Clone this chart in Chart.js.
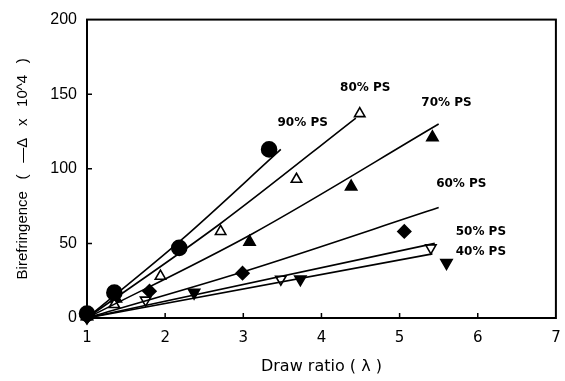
<!DOCTYPE html>
<html>
<head>
<meta charset="utf-8">
<script src="https://cdn.jsdelivr.net/npm/chart.js@4"></script>
<style>
  html, body { margin: 0; padding: 0; background: #fff; }
  #wrap { width: 565px; height: 381px; }
</style>
</head>
<body>
<div id="wrap"><canvas id="chart"></canvas></div>
<script>
// measured points, draw ratio vs birefringence
var ps90X = [1.0, 1.35, 2.18, 3.33];
var ps90Y = [3, 17, 47, 113];
var ps80X = [1.0, 1.35, 1.94, 2.71, 3.68, 4.49];
var ps80Y = [1, 9, 28, 58, 93, 137];
var ps70X = [1.0, 1.37, 3.08, 4.38, 5.42];
var ps70Y = [1, 13, 51, 88, 121];
var ps60X = [1.0, 1.8, 2.99, 5.06];
var ps60Y = [1, 18, 30, 58];
var ps50X = [1.0, 1.75, 3.48, 5.4];
var ps50Y = [0, 12, 26, 47];
var ps40X = [1.0, 2.37, 3.73, 5.6];
var ps40Y = [1, 17, 26, 37];

// fitted curves
var fit90X = [1, 2.2, 3.48], fit90Y = [0, 52, 113];
var fit80X = [1, 2.7, 4.44], fit80Y = [0, 63, 134];
var fit70X = [1, 3.1, 5.5], fit70Y = [0, 56, 130];
var fit60X = [1, 3.0, 5.5], fit60Y = [0, 31, 74];
var fit50X = [1, 5.45], fit50Y = [0, 50];
var fit40X = [1, 5.42], fit40Y = [0, 43];

var seriesNames = ['90% PS', '80% PS', '70% PS', '60% PS', '50% PS', '40% PS'];
// where each name sits (data units)
var nameAt = [[3.76, 131], [4.56, 154], [5.6, 144], [5.79, 90], [6.04, 57.5], [6.04, 44]];

var xTicks = [1, 2, 3, 4, 5, 6, 7];
var yTicks = [0, 50, 100, 150, 200];

function pts(xs, ys) {
  return xs.map(function (x, i) { return { x: x, y: ys[i] }; });
}

function fitSet(xs, ys) {
  return {
    data: pts(xs, ys), showLine: true, pointRadius: 0,
    borderColor: '#000', borderWidth: 1.6, cubicInterpolationMode: 'monotone', fill: false
  };
}

function markSet(xs, ys, style, filled, rot, r) {
  return {
    data: pts(xs, ys), showLine: false, pointStyle: style, pointRotation: rot || 0,
    pointRadius: r, pointHoverRadius: r,
    backgroundColor: filled ? '#000' : '#fff', borderColor: '#000', borderWidth: 1.6
  };
}

var frame = {
  id: 'frame',
  afterDraw: function (c) {
    var ctx = c.ctx, a = c.chartArea, sx = c.scales.x, sy = c.scales.y;
    ctx.save();
    ctx.strokeStyle = '#000';
    ctx.lineWidth = 2;
    ctx.strokeRect(a.left, a.top, a.right - a.left, a.bottom - a.top);
    ctx.lineWidth = 1.5;
    ctx.beginPath();
    xTicks.slice(1, -1).forEach(function (v) {
      var px = sx.getPixelForValue(v);
      ctx.moveTo(px, a.bottom); ctx.lineTo(px, a.bottom - 5);
    });
    yTicks.slice(1, -1).forEach(function (v) {
      var py = sy.getPixelForValue(v);
      ctx.moveTo(a.left, py); ctx.lineTo(a.left + 5, py);
    });
    ctx.stroke();
    ctx.fillStyle = '#000';
    ctx.font = 'bold 12px "DejaVu Sans"';
    ctx.textAlign = 'center';
    ctx.textBaseline = 'middle';
    seriesNames.forEach(function (n, i) {
      ctx.fillText(n, sx.getPixelForValue(nameAt[i][0]), sy.getPixelForValue(nameAt[i][1]));
    });
    ctx.restore();
  }
};

var chart = new Chart(document.getElementById('chart'), {
  type: 'scatter',
  data: {
    datasets: [
      fitSet(fit90X, fit90Y), fitSet(fit80X, fit80Y), fitSet(fit70X, fit70Y),
      fitSet(fit60X, fit60Y), fitSet(fit50X, fit50Y), fitSet(fit40X, fit40Y),
      markSet(ps90X, ps90Y, 'circle', true, 0, 7.5),
      markSet(ps80X, ps80Y, 'triangle', false, 0, 6),
      markSet(ps70X, ps70Y, 'triangle', true, 0, 6.5),
      markSet(ps60X, ps60Y, 'rectRot', true, 0, 6.5),
      markSet(ps50X, ps50Y, 'triangle', false, 180, 6),
      markSet(ps40X, ps40Y, 'triangle', true, 180, 6.5)
    ]
  },
  options: {
    responsive: true,
    maintainAspectRatio: false,
    animation: false,
    layout: { padding: { top: 19, right: 0, left: 0, bottom: 0 } },
    plugins: { legend: { display: false }, tooltip: { enabled: false } },
    elements: { point: { hitRadius: 0 } },
    datasets: { scatter: { clip: false } },
    scales: {
      x: {
        type: 'linear', min: 1, max: 7,
        afterFit: function (s) { s.height = 63; s.paddingRight = 8; },
        afterBuildTicks: function (s) { s.ticks = xTicks.map(function (v) { return { value: v }; }); },
        grid: { display: false, drawTicks: false },
        border: { display: false },
        ticks: { color: '#000', padding: 11, maxRotation: 0, font: { family: '"DejaVu Sans"', size: 15 } },
        title: {
          display: true, text: 'Draw ratio ( λ )', color: '#000',
          font: { family: '"DejaVu Sans"', size: 16 }, padding: { top: 0, bottom: 5 }
        }
      },
      y: {
        type: 'linear', min: 0, max: 200,
        afterFit: function (s) { s.width = 87; },
        afterBuildTicks: function (s) { s.ticks = yTicks.map(function (v) { return { value: v }; }); },
        grid: { display: false, drawTicks: false },
        border: { display: false },
        ticks: { color: '#000', padding: 10, font: { family: '"Liberation Sans"', size: 16 } },
        title: {
          display: true, text: 'Birefringence\u2002 (\u2002 —Δ\u2002 x\u2002 10^4\u2002 )', color: '#000',
          font: { family: '"Liberation Sans"', size: 15 }, padding: { top: 14, bottom: 0 }
        }
      }
    }
  },
  plugins: [frame]
});
</script>
</body>
</html>
